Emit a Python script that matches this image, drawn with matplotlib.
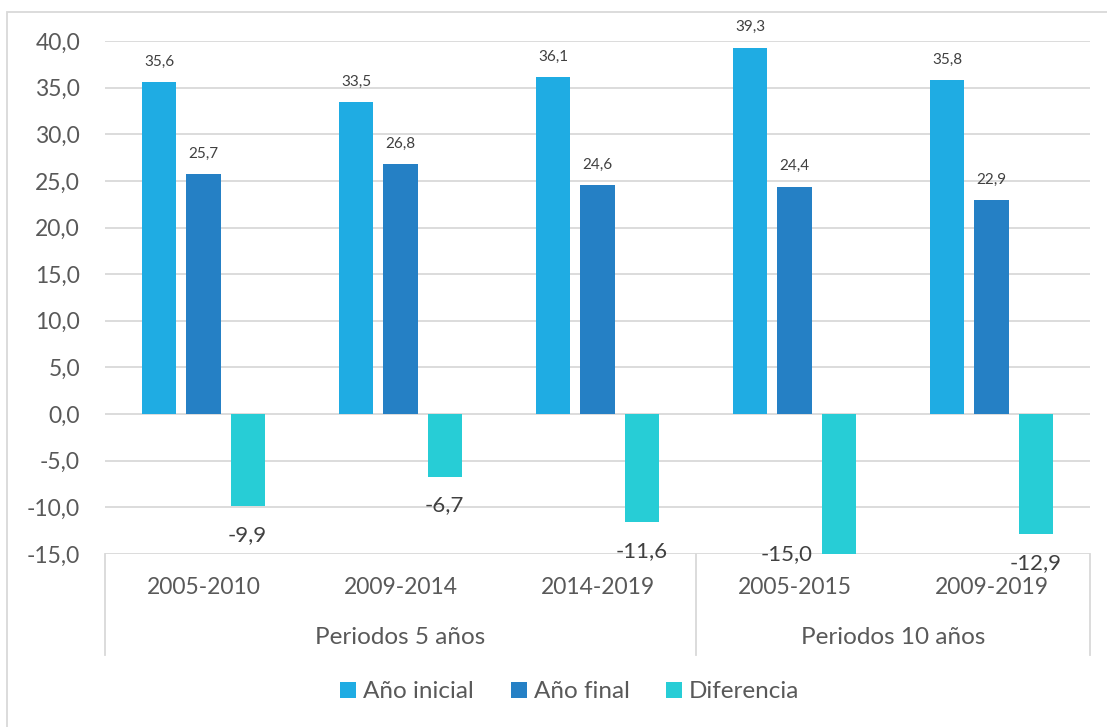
import matplotlib
matplotlib.use("Agg")
import matplotlib.pyplot as plt
from matplotlib.patches import Patch, Rectangle
import numpy as np

plt.rcParams['font.family'] = ['Lato', 'DejaVu Sans']

periods = ["2005-2010", "2009-2014", "2014-2019", "2005-2015", "2009-2019"]
groups = ["Periodos 5 años", "Periodos 10 años"]
group_sizes = [3, 2]
series_names = ["Año inicial", "Año final", "Diferencia"]
ano_inicial = [35.6, 33.5, 36.1, 39.3, 35.8]
ano_final = [25.7, 26.8, 24.6, 24.4, 22.9]
diferencia = [-9.9, -6.7, -11.6, -15.0, -12.9]
y_ticks = [-15, -10, -5, 0, 5, 10, 15, 20, 25, 30, 35, 40]

colors = ["#1FACE3", "#2580C5", "#27CDD6"]
text_dark = "#404040"
tick_gray = "#595959"
grid_gray = "#D9D9D9"

W, H = 1107, 727
fig = plt.figure(figsize=(W / 100, H / 100), dpi=100)
ax = fig.add_axes([105 / W, 1 - 554 / H, (1090 - 105) / W, (554 - 41) / H])

x = np.arange(len(periods))
width = 0.1726
step = 0.2234
series = [ano_inicial, ano_final, diferencia]
for i, (vals, col, name) in enumerate(zip(series, colors, series_names)):
    ax.bar(x + (i - 1) * step, vals, width=width, color=col, label=name, zorder=3)

ax.set_xlim(-0.5, len(periods) - 0.5)
ax.set_ylim(-15, 40)
ax.set_yticks(y_ticks)
ax.set_yticklabels([f"{v:.1f}".replace(".", ",") for v in y_ticks],
                   fontsize=16.5, color=tick_gray)
ax.tick_params(axis='y', length=0, pad=18)
ax.set_xticks([])
ax.yaxis.grid(True, color=grid_gray, linewidth=1.3, zorder=0)
for s in ax.spines.values():
    s.set_visible(False)


def fmt(v):
    return f"{v:.1f}".replace(".", ",")


# positive value labels
for i, vals in enumerate(series[:2]):
    for xi, v in zip(x, vals):
        ax.annotate(fmt(v), (xi + (i - 1) * step, v), xytext=(0, 14.5),
                    textcoords="offset points", ha="center", va="center",
                    fontsize=11, color=text_dark)

# negative value labels
for xi, v in zip(x, diferencia):
    bx = xi + step
    if v <= -15:
        ax.annotate(fmt(v), (bx - width / 2, v), xytext=(-25, 0),
                    textcoords="offset points", ha="center", va="center",
                    fontsize=16, color=text_dark, annotation_clip=False)
    else:
        ax.annotate(fmt(v), (bx, v), xytext=(0, -20.5),
                    textcoords="offset points", ha="center", va="center",
                    fontsize=16, color=text_dark, annotation_clip=False)

# two-level category axis
trans = ax.get_xaxis_transform()
ax_h = 554 - 41
for xi, lab in zip(x, periods):
    ax.text(xi, -(588 - 554) / ax_h, lab, transform=trans, ha="center",
            va="center", fontsize=16.5, color=tick_gray, clip_on=False)

edges = np.concatenate([[0], np.cumsum(group_sizes)]) - 0.5
line_bottom = -(655 - 554) / ax_h
for e in edges:
    ax.plot([e, e], [0, line_bottom], transform=trans, color=grid_gray,
            linewidth=1.3, clip_on=False)
for g, lo, hi in zip(groups, edges[:-1], edges[1:]):
    ax.text((lo + hi) / 2, -(638 - 554) / ax_h, g, transform=trans,
            ha="center", va="center", fontsize=17.5, color=tick_gray,
            clip_on=False)

handles = [Patch(facecolor=c, edgecolor="none") for c in colors]
fig.legend(handles, series_names, loc="center", bbox_to_anchor=(570 / W, 1 - 692 / H),
           ncol=3, frameon=False, fontsize=17.5, handlelength=0.65, handleheight=0.65,
           handletextpad=0.3, columnspacing=1.5, labelcolor=tick_gray)

# chart frame
fig.patches.append(Rectangle((7 / W, -0.1), 1.2, 1 - 12 / H + 0.1,
                             transform=fig.transFigure, fill=False,
                             edgecolor=grid_gray, linewidth=1.3))

fig.savefig("out.png", dpi=100)
